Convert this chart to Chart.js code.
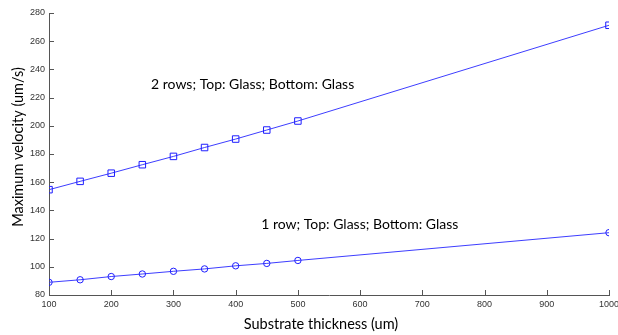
<!DOCTYPE html>
<html>
<head>
<meta charset="utf-8">
<script src="https://cdn.jsdelivr.net/npm/chart.js@4"></script>
<style>
  html, body { margin: 0; padding: 0; background: #fff; }
  #wrap { width: 618px; height: 335px; }
</style>
</head>
<body>
<div id="wrap"><canvas id="velChart" width="618" height="335"></canvas></div>
<script>
// thickness values (um)
const thickness = [100, 150, 200, 250, 300, 350, 400, 450, 500, 1000];
// max velocity (um/s)
const twoRows = [154.7, 160.6, 166.4, 172.4, 178.3, 184.6, 190.6, 197.0, 203.4, 271.3];
const oneRow = [89.0, 90.8, 93.1, 94.9, 96.8, 98.5, 100.7, 102.4, 104.5, 124.2];
const xTicks = [100, 200, 300, 400, 500, 600, 700, 800, 900, 1000];
const yTicks = [80, 100, 120, 140, 160, 180, 200, 220, 240, 260, 280];

const seriesLabels = ['2 rows; Top: Glass; Bottom: Glass', '1 row; Top: Glass; Bottom: Glass'];

function toPoints(ys) {
    return thickness.map((x, i) => ({ x: x, y: ys[i] }));
}

// inward tick marks, axis titles and the line labels
const decorPlugin = {
    id: 'decor',
    afterDraw(chart) {
        const ctx = chart.ctx;
        const xs = chart.scales.x;
        const ys = chart.scales.y;
        const area = chart.chartArea;
        ctx.save();
        ctx.strokeStyle = '#555';
        ctx.lineWidth = 1;
        ctx.beginPath();
        xTicks.forEach(v => {
            const px = Math.round(xs.getPixelForValue(v)) + 0.5;
            ctx.moveTo(px, area.bottom);
            ctx.lineTo(px, area.bottom - 5);
        });
        yTicks.forEach(v => {
            const py = Math.round(ys.getPixelForValue(v)) + 0.5;
            ctx.moveTo(area.left, py);
            ctx.lineTo(area.left + 5, py);
        });
        ctx.stroke();

        ctx.fillStyle = '#000';
        ctx.font = '14px Lato';
        ctx.textBaseline = 'middle';
        ctx.textAlign = 'left';
        ctx.fillText(seriesLabels[0], xs.getPixelForValue(264), ys.getPixelForValue(229.5));
        ctx.fillText(seriesLabels[1], xs.getPixelForValue(441), ys.getPixelForValue(129.7));

        ctx.font = '14.5px Lato';
        ctx.textAlign = 'center';
        ctx.fillText('Substrate thickness (um)', 321, 324);
        ctx.translate(18, 147);
        ctx.rotate(-Math.PI / 2);
        ctx.fillText('Maximum velocity (um/s)', 0, 0);
        ctx.restore();
    }
};

const ctx = document.getElementById('velChart').getContext('2d');
new Chart(ctx, {
    type: 'line',
    data: {
        datasets: [{
            label: seriesLabels[0],
            data: toPoints(twoRows),
            borderColor: 'rgba(40, 40, 255, 0.9)',
            backgroundColor: 'rgba(0, 0, 0, 0)',
            borderWidth: 1,
            pointStyle: 'rect',
            pointRadius: 4.6,
            pointBorderWidth: 1,
            pointBorderColor: 'rgba(30, 30, 255, 1)',
            pointBackgroundColor: 'rgba(0, 0, 0, 0)',
            tension: 0
        }, {
            label: seriesLabels[1],
            data: toPoints(oneRow),
            borderColor: 'rgba(40, 40, 255, 0.9)',
            backgroundColor: 'rgba(0, 0, 0, 0)',
            borderWidth: 1,
            pointStyle: 'circle',
            pointRadius: 3.2,
            pointBorderWidth: 1,
            pointBorderColor: 'rgba(30, 30, 255, 1)',
            pointBackgroundColor: 'rgba(0, 0, 0, 0)',
            tension: 0
        }]
    },
    options: {
        responsive: false,
        animation: false,
        devicePixelRatio: 1,
        layout: { padding: { top: 13, right: 9, left: 0, bottom: 0 } },
        plugins: {
            legend: { display: false },
            tooltip: { enabled: false }
        },
        scales: {
            x: {
                type: 'linear',
                min: 100,
                max: 1000,
                afterFit(scale) {
                    scale.height = 40;
                    scale.paddingLeft = 0;
                    scale.paddingRight = 0;
                },
                afterBuildTicks(scale) { scale.ticks = xTicks.map(v => ({ value: v })); },
                grid: { display: false, drawTicks: false },
                border: { display: true, color: '#555', width: 1 },
                ticks: {
                    padding: 4,
                    color: '#333',
                    font: { family: 'Liberation Sans', size: 9 },
                    maxRotation: 0,
                    callback: v => String(v)
                }
            },
            y: {
                type: 'linear',
                min: 80,
                max: 280,
                afterFit(scale) {
                    scale.width = 49;
                    scale.paddingTop = 0;
                    scale.paddingBottom = 0;
                },
                afterBuildTicks(scale) { scale.ticks = yTicks.map(v => ({ value: v })); },
                grid: { display: false, drawTicks: false },
                border: { display: true, color: '#555', width: 1 },
                ticks: {
                    padding: 4,
                    color: '#333',
                    font: { family: 'Liberation Sans', size: 9 },
                    callback: v => String(v)
                }
            }
        }
    },
    plugins: [decorPlugin]
});
</script>
</body>
</html>
